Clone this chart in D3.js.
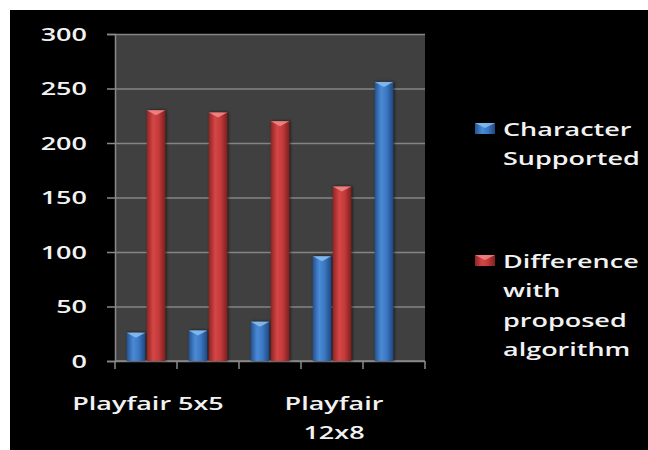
<!DOCTYPE html>
<html>
<head>
<meta charset="utf-8">
<script src="https://cdn.jsdelivr.net/npm/d3@7"></script>
<style>
    body { margin: 0; background: #fff; }
    svg { display: block; }
    text { font-family: "Open Sans", sans-serif; font-weight: 600; fill: #f2f2f2; }
</style>
</head>
<body>
<svg id="chart"></svg>
<script>
// chart data
const categories = ["Playfair 5x5", "Playfair 7x4", "Playfair 6x6", "Playfair 12x8", "Proposed 16x16"];
const charsSupported = [26, 28, 36, 96, 256];
const difference = [230, 228, 220, 160, 0];
const seriesNames = ["Character Supported", "Difference with proposed algorithm"];
const yTicks = [0, 50, 100, 150, 200, 250, 300];
// excel only shows some of the category labels (wrapped)
const shownLabels = { 0: ["Playfair 5x5"], 3: ["Playfair", "12x8"] };
const legendLines = [["Character", "Supported"], ["Difference", "with", "proposed", "algorithm"]];

class BarVis {
    constructor(_config) {
        this.config = {
            parentElement: _config.parentElement,
            containerWidth: _config.containerWidth || 648,
            containerHeight: _config.containerHeight || 450,
            plot: { left: 115, right: 425, top: 34, bottom: 361 },
            textScale: 1.5,
        };
        this.initVis();
    }

    /**
     * svg, background, defs (gradients + shadow)
     */
    initVis() {
        let vis = this;
        const p = vis.config.plot;

        vis.svg = d3.select(vis.config.parentElement)
            .attr("width", vis.config.containerWidth)
            .attr("height", vis.config.containerHeight);

        vis.svg.append("rect")
            .attr("x", 10).attr("y", 10)
            .attr("width", vis.config.containerWidth - 10)
            .attr("height", vis.config.containerHeight - 10)
            .attr("fill", "#000");

        const defs = vis.svg.append("defs");
        const grads = [
            { id: "gBlue", stops: ["#24528f", "#4a8ad6", "#3b77c2", "#1f4880"] },
            { id: "gRed", stops: ["#8f2424", "#d64646", "#c23a3a", "#802020"] },
        ];
        grads.forEach((g) => {
            const lg = defs.append("linearGradient").attr("id", g.id)
                .attr("x1", 0).attr("x2", 1).attr("y1", 0).attr("y2", 0);
            [0, 0.35, 0.65, 1].forEach((o, i) => {
                lg.append("stop").attr("offset", o).attr("stop-color", g.stops[i]);
            });
        });
        defs.append("filter").attr("id", "shadow")
            .attr("x", "-50%").attr("y", "-10%").attr("width", "200%").attr("height", "120%")
            .append("feDropShadow")
            .attr("dx", 1).attr("dy", 0).attr("stdDeviation", 1.5)
            .attr("flood-color", "#000").attr("flood-opacity", 0.7);

        vis.xScale = d3.scaleBand().domain(categories).range([p.left, p.right]).padding(0);
        vis.yScale = d3.scaleLinear().domain([0, 300]).range([p.bottom, p.top]);
        vis.inner = d3.scaleBand().domain([0, 1])
            .range([vis.xScale.bandwidth() * 0.19, vis.xScale.bandwidth() * 0.81])
            .paddingInner(0.08);

        vis.svg.append("rect")
            .attr("x", p.left).attr("y", p.top)
            .attr("width", p.right - p.left).attr("height", p.bottom - p.top)
            .attr("fill", "#404040");

        vis.chart = vis.svg.append("g");
    }

    updateVis() {
        let vis = this;
        vis.bars = [];
        categories.forEach((c, i) => {
            vis.bars.push({ cat: c, s: 0, value: charsSupported[i] });
            vis.bars.push({ cat: c, s: 1, value: difference[i] });
        });
        vis.bars = vis.bars.filter((d) => d.value > 0);
        vis.renderVis();
    }

    renderVis() {
        let vis = this;
        const p = vis.config.plot;
        const ts = vis.config.textScale;

        // gridlines + y axis
        const yAxis = d3.axisLeft(vis.yScale).tickValues(yTicks).tickSize(8).tickPadding(0);
        const yG = vis.chart.append("g").attr("transform", `translate(${p.left},0)`).call(yAxis);
        yG.select(".domain").attr("stroke", "#8a8a8a").attr("stroke-width", 1.5);
        yG.selectAll(".tick line").attr("stroke", "#8a8a8a").attr("stroke-width", 1.5);
        yG.selectAll(".tick text").remove();
        yG.selectAll(".tick").append("line")
            .attr("x1", 0).attr("x2", p.right - p.left)
            .attr("stroke", "#858585").attr("stroke-width", 1.5);
        yG.selectAll(".tick").append("text")
            .attr("transform", `translate(-28,6) scale(${ts},1)`)
            .attr("text-anchor", "end")
            .attr("font-size", 18)
            .text((d) => d);

        // x axis with ticks at category boundaries
        const xG = vis.chart.append("g");
        xG.append("line")
            .attr("x1", p.left).attr("x2", p.right)
            .attr("y1", p.bottom).attr("y2", p.bottom)
            .attr("stroke", "#8a8a8a").attr("stroke-width", 1.5);
        const edges = categories.map((c) => vis.xScale(c)).concat([p.right]);
        xG.selectAll(".xtick").data(edges).join("line")
            .attr("class", "xtick")
            .attr("x1", (d) => d).attr("x2", (d) => d)
            .attr("y1", p.bottom).attr("y2", p.bottom + 8)
            .attr("stroke", "#8a8a8a").attr("stroke-width", 1.5);

        const labelData = Object.keys(shownLabels).map((k) => ({ i: +k, lines: shownLabels[k] }));
        xG.selectAll(".xlabel").data(labelData).join("text")
            .attr("class", "xlabel")
            .attr("transform", (d) =>
                `translate(${vis.xScale(categories[d.i]) + vis.xScale.bandwidth() / 2 + 2},410) scale(${ts},1)`)
            .attr("text-anchor", "middle")
            .attr("font-size", 18)
            .selectAll("tspan").data((d) => d.lines).join("tspan")
            .attr("x", 0)
            .attr("dy", (d, j) => (j === 0 ? 0 : 29))
            .text((d) => d);

        // bars
        const barG = vis.chart.append("g");
        const bar = barG.selectAll(".bar").data(vis.bars).join("g")
            .attr("class", "bar")
            .attr("filter", "url(#shadow)");
        const bx = (d) => vis.xScale(d.cat) + vis.inner(d.s);
        const bw = vis.inner.bandwidth();
        bar.append("rect")
            .attr("x", bx)
            .attr("y", (d) => vis.yScale(d.value))
            .attr("width", bw)
            .attr("height", (d) => vis.yScale(0) - vis.yScale(d.value))
            .attr("fill", (d) => (d.s === 0 ? "url(#gBlue)" : "url(#gRed)"));
        // little bevel highlight on the top of each bar
        bar.append("path")
            .attr("d", (d) => {
                const x = bx(d), y = vis.yScale(d.value);
                return `M${x},${y}L${x + bw},${y}L${x + bw / 2},${y + 5}Z`;
            })
            .attr("fill", (d) => (d.s === 0 ? "#8cc0f0" : "#f08c8c"))
            .attr("opacity", 0.85);

        // legend
        const legend = vis.svg.append("g");
        const legendTop = [123, 255];
        const items = legend.selectAll(".item").data(seriesNames).join("g")
            .attr("class", "item")
            .attr("transform", (d, i) => `translate(475,${legendTop[i]})`);
        items.append("rect")
            .attr("width", 20).attr("height", 11)
            .attr("fill", (d, i) => (i === 0 ? "url(#gBlue)" : "url(#gRed)"));
        items.append("path")
            .attr("d", "M0,0L20,0L10,5Z")
            .attr("fill", (d, i) => (i === 0 ? "#8cc0f0" : "#f08c8c"))
            .attr("opacity", 0.8);
        items.append("text")
            .attr("transform", `translate(28,13) scale(${ts},1)`)
            .attr("font-size", 18)
            .selectAll("tspan").data((d, i) => legendLines[i]).join("tspan")
            .attr("x", 0)
            .attr("dy", (d, j) => (j === 0 ? 0 : 29.5))
            .text((d) => d);
    }
}

const barVis = new BarVis({ parentElement: "#chart" });
barVis.updateVis();
</script>
</body>
</html>
